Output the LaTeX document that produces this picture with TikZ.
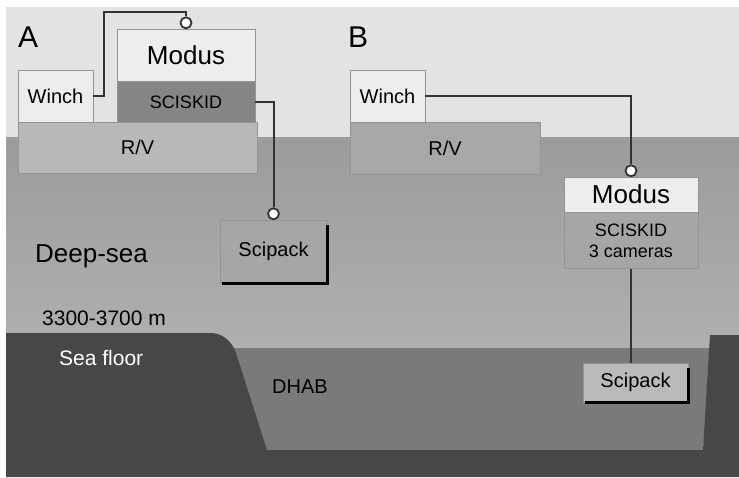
\documentclass[tikz,border=0pt]{standalone}
\usepackage{fontspec}
\setmainfont{Liberation Sans}
\usetikzlibrary{positioning, arrows.meta}
\definecolor{sky}{gray}{0.89}
\definecolor{watertop}{gray}{0.61}
\definecolor{waterlow}{gray}{0.69}
\definecolor{floorcol}{gray}{0.28}
\definecolor{dhabcol}{gray}{0.48}
\definecolor{boxline}{gray}{0.58}
\definecolor{lightfill}{gray}{0.93}
\definecolor{skidA}{gray}{0.52}
\definecolor{skidB}{gray}{0.65}
\definecolor{rvA}{gray}{0.72}
\definecolor{rvB}{gray}{0.66}
\definecolor{packA}{gray}{0.65}
\definecolor{packB}{gray}{0.73}
\definecolor{cablecol}{gray}{0.2}

\begin{document}
\begin{tikzpicture}[x=1pt, y=-1pt,
  box/.style={draw=boxline, line width=0.6pt, inner sep=0pt, align=center, font=\fontsize{20}{24}\selectfont},
  big/.style={font=\fontsize{26}{30}\selectfont},
  small/.style={font=\fontsize{18}{21}\selectfont},
  tag/.style={anchor=base west, inner sep=0pt, font=\fontsize{21}{25}\selectfont},
  panel/.style={anchor=base west, inner sep=0pt, font=\fontsize{30}{34}\selectfont},
  cable/.style={draw=cablecol, line width=2pt},
  ring/.style={circle, draw=cablecol, line width=1.8pt, fill=white, inner sep=0pt, minimum size=11pt, anchor=south},
  packshadow/.style={draw=black, line width=3.2pt},
]
  \fill[white] (0,0) rectangle (739,477);
  \useasboundingbox (0,0) rectangle (739,477);
  \fill[sky] (6,7) rectangle (739,137);
  \shade[top color=watertop, bottom color=waterlow] (6,137) rectangle (739,352);
  \fill[dhabcol] (230,348) -- (712,348) -- (703,450) -- (267,450) -- cycle;
  \fill[floorcol] (6,333) -- (210,333) .. controls (222,333) and (230,340) .. (235,350)
        -- (267,450) -- (703,450) -- (710,335) -- (739,335) -- (739,477) -- (6,477) -- cycle;

  \node[panel] (labA) at (18,47) {A};
  \node[panel] (labB) at (348,47) {B};

  \node[box, fill=lightfill, minimum width=75pt, minimum height=52pt] (WinchA) at (55.5,96) {Winch};
  \node[box, big, fill=lightfill, minimum width=138pt, minimum height=52pt] (ModusA) at (186,55) {Modus};
  \node[box, small, fill=skidA, minimum width=138pt, minimum height=41pt, below=0pt of ModusA] (SciskidA) {SCISKID};
  \node[box, fill=rvA, minimum width=239pt, minimum height=51pt] (RVA) at (137.5,147.5) {R/V};
  \node[box, fill=packA, minimum width=107pt, minimum height=63pt] (ScipackA) at (273.5,251.5) {Scipack};

  \node[box, fill=lightfill, minimum width=75pt, minimum height=52pt] (WinchB) at (387.5,96) {Winch};
  \node[box, fill=rvB, minimum width=190pt, minimum height=52pt] (RVB) at (445,148) {R/V};
  \node[box, big, fill=lightfill, minimum width=134pt, minimum height=35pt] (ModusB) at (631,194.5) {Modus};
  \node[box, small, fill=skidB, minimum width=134pt, minimum height=56pt, below=0pt of ModusB] (SciskidB) {SCISKID\\3 cameras};
  \node[box, fill=packB, minimum width=105pt, minimum height=39pt] (ScipackB) at (635.5,382.5) {Scipack};

  \foreach \p in {ScipackA,ScipackB}
    \draw[packshadow] ([xshift=2pt]\p.south west) -- (\p.south east) -- ([yshift=-5pt]\p.north east);

  \node[ring] (ringA) at ([yshift=-0.5pt]ModusA.north) {};
  \node[ring] (ringP) at ([yshift=-0.5pt]ScipackA.north) {};
  \node[ring] (ringB) at ([yshift=-0.5pt]ModusB.north) {};

  \draw[cable] (WinchA.east) -- ++(11,0) |- ([yshift=4pt]ringA.north) -- (ringA.north);
  \draw[cable] (SciskidA.east) -| (ringP.north);
  \draw[cable] (WinchB.east) -| (ringB.north);
  \draw[cable] (SciskidB.south) -- (SciskidB.south |- ScipackB.north);

  \node[tag, font=\fontsize{26}{30}\selectfont] (deep) at (35,262) {Deep-sea};
  \node[tag] (depth) at (42,325) {3300-3700 m};
  \node[tag, white] (floor) at (59,365) {Sea floor};
  \node[tag, font=\fontsize{20}{24}\selectfont] (dhab) at (272,393) {DHAB};
\end{tikzpicture}
\end{document}
